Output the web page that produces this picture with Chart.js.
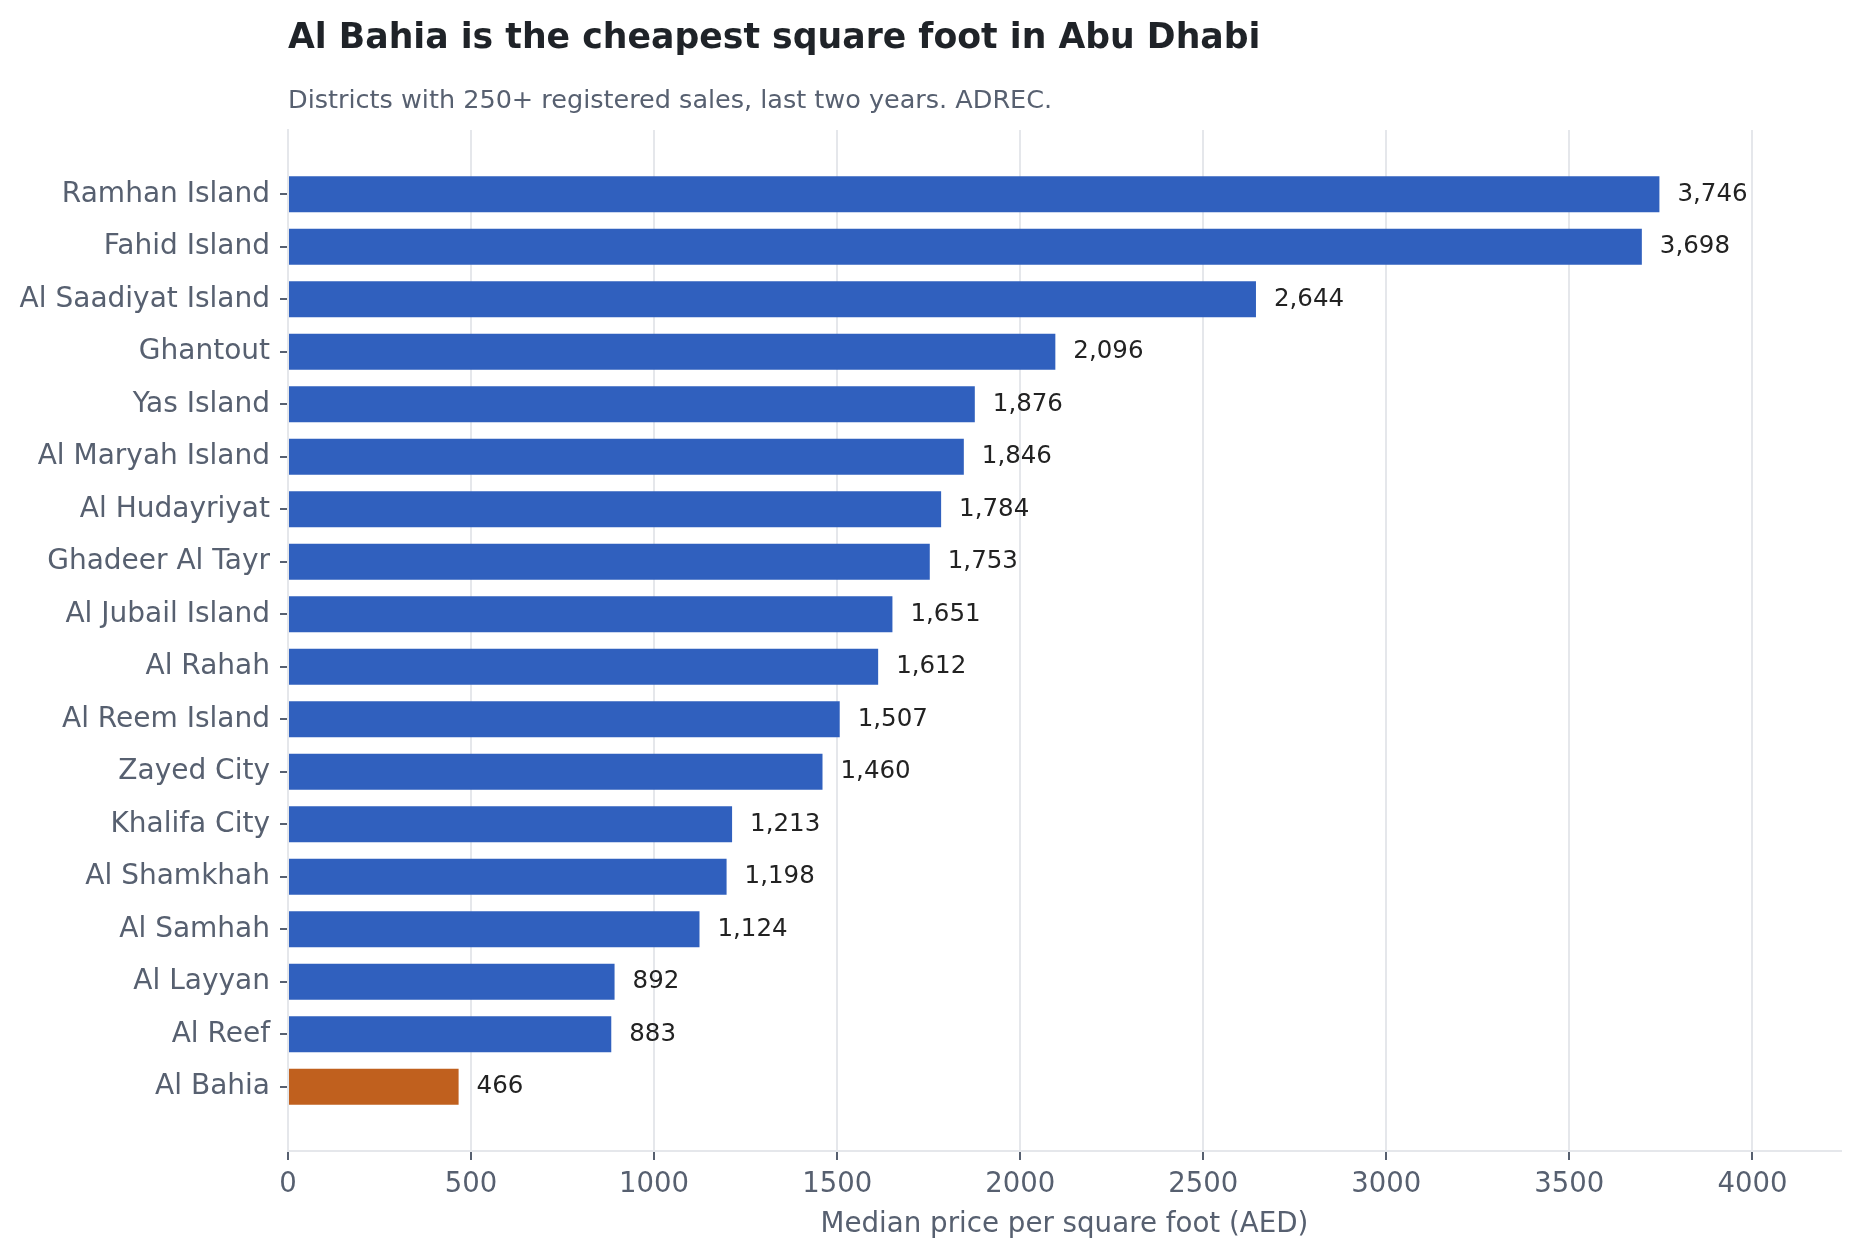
<!DOCTYPE html>
<html>
<head>
<meta charset="utf-8">
<title>Al Bahia is the cheapest square foot in Abu Dhabi</title>
<script src="https://cdn.jsdelivr.net/npm/chart.js@4.4.1/dist/chart.umd.min.js"></script>
<style>
  html, body { margin: 0; padding: 0; background: #ffffff; }
  #wrap { width: 1859px; height: 1258px; }
</style>
</head>
<body>
<div id="wrap"><canvas id="chart" width="1859" height="1258"></canvas></div>
<script>
// Data
const districts = [
    'Ramhan Island', 'Fahid Island', 'Al Saadiyat Island', 'Ghantout', 'Yas Island',
    'Al Maryah Island', 'Al Hudayriyat', 'Ghadeer Al Tayr', 'Al Jubail Island', 'Al Rahah',
    'Al Reem Island', 'Zayed City', 'Khalifa City', 'Al Shamkhah', 'Al Samhah',
    'Al Layyan', 'Al Reef', 'Al Bahia'
];
const medianPrice = [
    3746, 3698, 2644, 2096, 1876,
    1846, 1784, 1753, 1651, 1612,
    1507, 1460, 1213, 1198, 1124,
    892, 883, 466
];
const xTicks = [0, 500, 1000, 1500, 2000, 2500, 3000, 3500, 4000];
const highlighted = 'Al Bahia';

const TITLE = 'Al Bahia is the cheapest square foot in Abu Dhabi';
const SUBTITLE = 'Districts with 250+ registered sales, last two years. ADREC.';
const X_TITLE = 'Median price per square foot (AED)';

const FONT = "'DejaVu Sans', 'Noto Sans', sans-serif";
const BLUE = '#3060be';
const ORANGE = '#c0601e';
const SLATE = '#576070';
const GRID = '#e5e7eb';

// Title + subtitle, drawn flush with the plot's left edge
const headerPlugin = {
    id: 'header',
    afterDraw(chart) {
        const ctx = chart.ctx;
        const left = chart.chartArea.left;
        ctx.save();
        ctx.textAlign = 'left';
        ctx.textBaseline = 'alphabetic';
        ctx.fillStyle = '#1f2328';
        ctx.font = `bold 34.7px ${FONT}`;
        ctx.fillText(TITLE, left, 48);
        ctx.fillStyle = SLATE;
        ctx.font = `25.5px ${FONT}`;
        ctx.fillText(SUBTITLE, left, 108);
        ctx.restore();
    }
};

// Value labels at the end of each bar
const valueLabels = {
    id: 'valueLabels',
    afterDatasetsDraw(chart) {
        const ctx = chart.ctx;
        const meta = chart.getDatasetMeta(0);
        ctx.save();
        ctx.font = `24.5px ${FONT}`;
        ctx.fillStyle = '#222222';
        ctx.textAlign = 'left';
        ctx.textBaseline = 'middle';
        meta.data.forEach((bar, i) => {
            ctx.fillText(medianPrice[i].toLocaleString('en-US'), bar.x + 18, bar.y);
        });
        ctx.restore();
    }
};

const points = medianPrice.map((v, i) => ({ x: v, y: i }));
const colors = districts.map(d => d === highlighted ? ORANGE : BLUE);

new Chart(document.getElementById('chart'), {
    type: 'bar',
    data: {
        datasets: [{
            data: points,
            backgroundColor: colors,
            borderWidth: 0,
            categoryPercentage: 1,
            barPercentage: 0.686
        }]
    },
    options: {
        indexAxis: 'y',
        responsive: false,
        devicePixelRatio: 1,
        animation: false,
        layout: { padding: { top: 130, right: 18, bottom: 0, left: 0 } },
        plugins: {
            legend: { display: false },
            tooltip: { enabled: false },
            title: { display: false }
        },
        scales: {
            x: {
                type: 'linear',
                min: 0,
                max: 4242,
                afterBuildTicks: scale => { scale.ticks = xTicks.map(v => ({ value: v })); },
                afterFit: scale => { scale.height = 107; },
                grid: {
                    color: GRID,
                    lineWidth: 2,
                    tickColor: SLATE,
                    tickLength: 9,
                    drawTicks: true
                },
                border: { display: true, color: GRID, width: 2 },
                ticks: {
                    color: SLATE,
                    padding: 8,
                    font: { family: FONT, size: 27.5 },
                    callback: v => String(v)
                },
                title: {
                    display: true,
                    text: X_TITLE,
                    color: SLATE,
                    font: { family: FONT, size: 27.7 },
                    padding: { top: 4, bottom: 17 }
                }
            },
            y: {
                type: 'linear',
                reverse: true,
                offset: false,
                min: -1.224,
                max: districts.length - 1 + 1.224,
                afterBuildTicks: scale => { scale.ticks = districts.map((d, i) => ({ value: i })); },
                afterFit: scale => { scale.width = 288; },
                grid: {
                    offset: false,
                    drawOnChartArea: false,
                    drawTicks: true,
                    tickColor: SLATE,
                    tickLength: 8,
                    lineWidth: 2
                },
                border: { display: true, color: GRID, width: 2 },
                ticks: {
                    color: SLATE,
                    padding: 10,
                    autoSkip: false,
                    font: { family: FONT, size: 28 },
                    callback: v => districts[v]
                }
            }
        }
    },
    plugins: [headerPlugin, valueLabels]
});
</script>
</body>
</html>
